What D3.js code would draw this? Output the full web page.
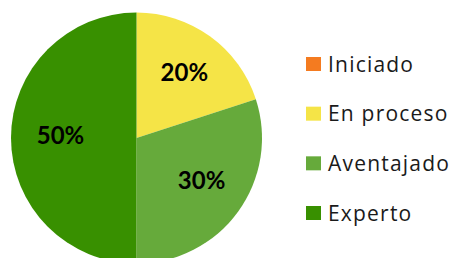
<!DOCTYPE html>
<html>
<head>
<meta charset="utf-8">
<script src="https://cdn.jsdelivr.net/npm/d3@7"></script>
<style>
  body { margin: 0; background: #fff; }
  svg { display: block; }
</style>
</head>
<body>
<div id="chart"></div>
<script>
  // data
  var categories = ["Iniciado", "En proceso", "Aventajado", "Experto"];
  var values = [0, 20, 30, 50];
  var colors = ["#F47B20", "#F5E447", "#66AA3B", "#389000"];

  var width = 461, height = 258;
  var cx = 136.5, cy = 138, radius = 125.5;

  var svg = d3.select("#chart")
    .append("svg")
      .attr("width", width)
      .attr("height", height);

  var data = categories.map(function(c, i) {
    return { name: c, value: values[i], color: colors[i] };
  });

  var pie = d3.pie()
    .sort(null)
    .value(function(d) { return d.value; });

  var arc = d3.arc().innerRadius(0).outerRadius(radius);
  var labelArc = d3.arc().innerRadius(78).outerRadius(78);

  var g = svg.append("g")
    .attr("transform", "translate(" + cx + "," + cy + ")");

  var arcs = pie(data);

  g.selectAll("path")
    .data(arcs)
    .enter()
    .append("path")
      .attr("d", arc)
      .style("fill", function(d) { return d.data.color; });

  // percent labels, slightly raised like the original
  g.selectAll("text")
    .data(arcs.filter(function(d) { return d.data.value > 0; }))
    .enter()
    .append("text")
      .attr("transform", function(d) {
        var c = labelArc.centroid(d);
        return "translate(" + (c[0] + 2) + "," + (c[1] - 3) + ")";
      })
      .attr("dy", "0.36em")
      .style("text-anchor", "middle")
      .style("font-family", "Lato, 'Open Sans', sans-serif")
      .style("font-weight", "bold")
      .style("font-size", "24px")
      .style("fill", "#000")
      .text(function(d) { return d.data.value + "%"; });

  // legend
  var legend = svg.append("g");
  var rowY = d3.scalePoint()
    .domain(categories)
    .range([64, 213]);

  var item = legend.selectAll("g")
    .data(data)
    .enter()
    .append("g")
      .attr("transform", function(d) { return "translate(306," + rowY(d.name) + ")"; });

  item.append("rect")
    .attr("x", 0)
    .attr("y", -7)
    .attr("width", 15)
    .attr("height", 14)
    .style("fill", function(d) { return d.color; });

  item.append("text")
    .attr("x", 22)
    .attr("dy", "0.36em")
    .style("font-family", "'Open Sans', sans-serif")
    .style("font-size", "21px")
    .style("letter-spacing", "1.2px")
    .style("fill", "#1a1a1a")
    .text(function(d) { return d.name; });
</script>
</body>
</html>
